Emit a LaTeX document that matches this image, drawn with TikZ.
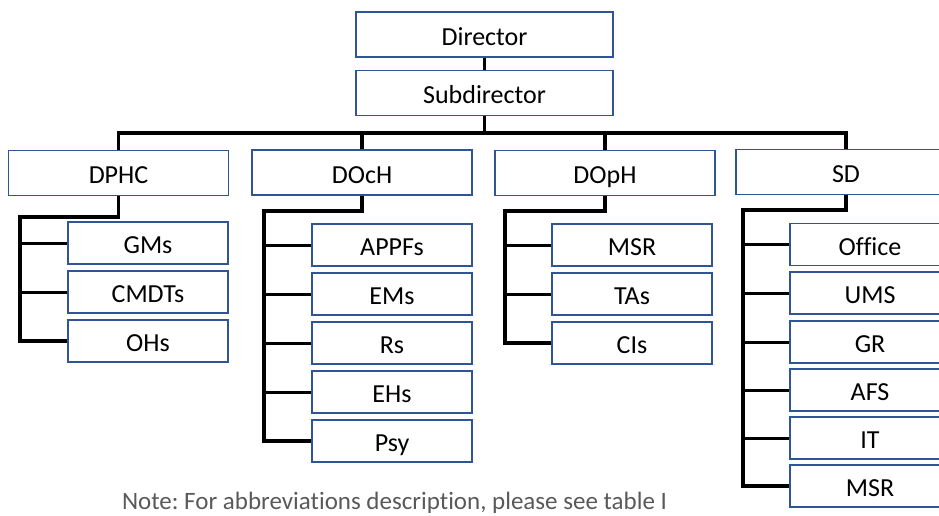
\documentclass[tikz,border=0pt]{standalone}
\usepackage{fontspec}
\setmainfont{Carlito}[Ligatures={NoCommon}]
\usepackage{tikz}
\usetikzlibrary{calc}

\definecolor{boxblue}{RGB}{47,85,151}
\definecolor{notegray}{RGB}{89,89,89}

\begin{document}
\frenchspacing
\begin{tikzpicture}[x=1pt,y=-1pt,
        box/.style={draw=boxblue,line width=1.6pt,fill=white,inner sep=0pt,
            text height=21pt,text depth=0pt,font=\fontsize{26}{30}\selectfont},
        topbox/.style={box,minimum width=257pt,minimum height=45pt},
        deptbox/.style={box,minimum width=220pt,minimum height=45pt},
        unitbox/.style={box,minimum width=160pt,minimum height=42pt},
        link/.style={line width=3.6pt,black},
        branch/.style={line width=3pt,black}]
        \useasboundingbox (0,0) rectangle (939,515);

        \node[topbox] (director) at (484.5,34.5) {Director};
        \node[topbox] (subdir) at (484.5,93) {Subdirector};

        % departments
        \node[deptbox] (dphc) at (118.5,173) {DPHC};
        \node[deptbox] (doch) at (362,172.5) {DOcH};
        \node[deptbox] (doph) at (605,173) {DOpH};
        \node[deptbox] (sd) at (846,172) {SD};

        % first column
        \node[unitbox] (gms) at (148,243) {GMs};
        \node[unitbox] (cmdts) at (148,292) {CMDTs};
        \node[unitbox] (ohs) at (148,341) {OHs};
        % sec column
        \node[unitbox] (appfs) at (392,245) {APPFs};
        \node[unitbox] (ems) at (392,294) {EMs};
        \node[unitbox] (rs) at (392,343) {Rs};
        \node[unitbox] (ehs) at (392,392) {EHs};
        \node[unitbox] (psy) at (392,441) {Psy};
        % third column
        \node[unitbox] (msra) at (632,245) {MSR};
        \node[unitbox] (tas) at (632,294) {TAs};
        \node[unitbox] (cis) at (632,343) {CIs};
        % fourth column
        \node[unitbox] (office) at (870,244.5) {Office};
        \node[unitbox] (ums) at (870,293) {UMS};
        \node[unitbox] (gr) at (870,342) {GR};
        \node[unitbox] (afs) at (870,390) {AFS};
        \node[unitbox] (it) at (870,438) {IT};
        \node[unitbox] (msrb) at (870,486) {MSR};

        % top links
        \coordinate (bus) at (484.5,133);
        \draw[link] (director) -- (subdir);
        \draw[link] (subdir) -- (bus);
        \draw[link] (dphc.north) |- (bus) -| (sd.north);
        \draw[link] (doch.north) -- (doch.north |- bus);
        \draw[link] (doph.north) -- (doph.north |- bus);

        % spines
        \coordinate (dphcspine) at (20,217);
        \coordinate (dochspine) at (264,211);
        \coordinate (dophspine) at (505,211);
        \coordinate (sdspine) at (743,210);
        \draw[link] (dphc.south) |- (dphcspine) |- (ohs.west);
        \draw[link] (doch.south) |- (dochspine) |- (psy.west);
        \draw[link] (doph.south) |- (dophspine) |- (cis.west);
        \draw[link] (sd.south) |- (sdspine) |- (msrb.west);

        % branches
        \draw[branch] (gms.west) -- (gms.west -| dphcspine);
        \draw[branch] (cmdts.west) -- (cmdts.west -| dphcspine);
        \draw[branch] (appfs.west) -- (appfs.west -| dochspine);
        \draw[branch] (ems.west) -- (ems.west -| dochspine);
        \draw[branch] (rs.west) -- (rs.west -| dochspine);
        \draw[branch] (ehs.west) -- (ehs.west -| dochspine);
        \draw[branch] (msra.west) -- (msra.west -| dophspine);
        \draw[branch] (tas.west) -- (tas.west -| dophspine);
        \draw[branch] (office.west) -- (office.west -| sdspine);
        \draw[branch] (ums.west) -- (ums.west -| sdspine);
        \draw[branch] (gr.west) -- (gr.west -| sdspine);
        \draw[branch] (afs.west) -- (afs.west -| sdspine);
        \draw[branch] (it.west) -- (it.west -| sdspine);

        \node[anchor=base,text=notegray,font=\fontsize{25}{29}\selectfont] (note) at (394.5,509)
            {Note: For abbreviations description, please see table I};
\end{tikzpicture}
\end{document}
